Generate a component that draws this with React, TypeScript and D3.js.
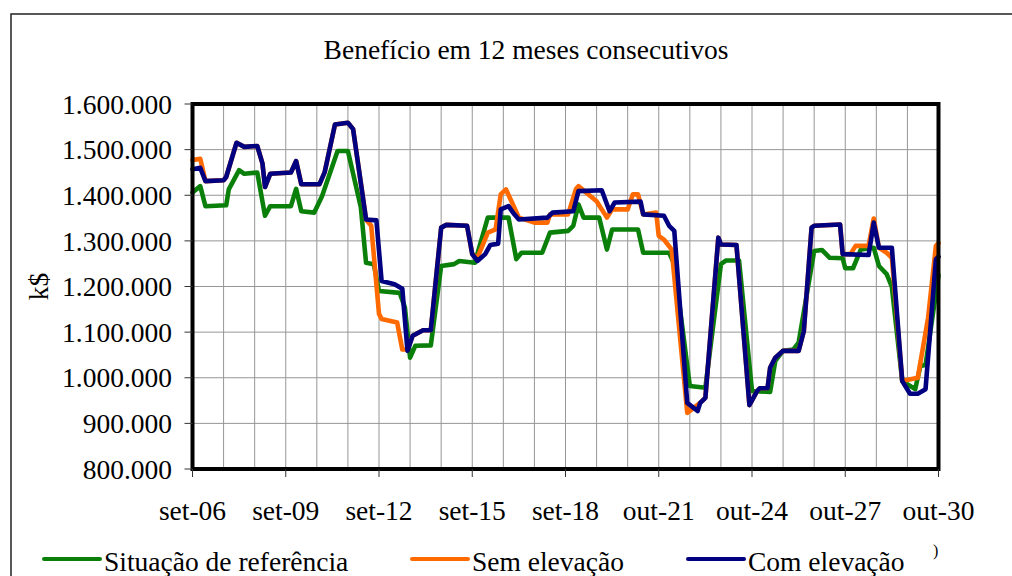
import React from "react"
import * as d3 from "d3"

// month index counted from set-06; values in thousands of k$
const refSeries: Array<[number, number]> = [
    [0, 1406], [3, 1420], [5, 1376], [13, 1378], [14, 1413], [18, 1455], [20, 1447], [25, 1450],
    [28, 1355], [30, 1376], [38, 1376], [40, 1414], [42, 1365], [47, 1362], [50, 1398], [56, 1497],
    [60, 1497], [65, 1373], [67, 1252], [70, 1249], [72, 1190], [80, 1186], [82, 1154], [84, 1044],
    [86, 1070], [92, 1071], [96, 1245], [101, 1249], [103, 1256], [109, 1252], [114, 1351], [122, 1351],
    [125, 1260], [127, 1274], [135, 1274], [138, 1318], [145, 1322], [147, 1333], [149, 1380], [151, 1351],
    [157, 1351], [160, 1281], [162, 1325], [172, 1325], [174, 1274], [184, 1274], [186, 1249], [192, 982],
    [198, 978], [204, 1249], [206, 1257], [211, 1257], [216, 971], [223, 969], [225, 1037], [228, 1059],
    [232, 1062], [234, 1077], [240, 1278], [243, 1280], [246, 1263], [251, 1262], [252, 1240], [255, 1240],
    [258, 1281], [263, 1285], [265, 1245], [268, 1227], [270, 1199], [274, 993], [279, 975], [281, 1026],
    [283, 1028], [288, 1225],
]

const semSeries: Array<[number, number]> = [
    [0, 1477], [3, 1480], [5, 1431], [12, 1433], [13, 1440], [17, 1515], [20, 1506], [25, 1508],
    [27, 1470], [28, 1418], [30, 1447], [38, 1450], [40, 1475], [42, 1424], [49, 1424], [51, 1450],
    [55, 1555], [60, 1559], [62, 1545], [67, 1347], [69, 1333], [72, 1140], [73, 1129], [79, 1121],
    [81, 1062], [83, 1062], [85, 1092], [89, 1104], [92, 1104], [96, 1329], [98, 1335], [106, 1333],
    [108, 1271], [110, 1263], [114, 1318], [117, 1325], [119, 1402], [121, 1413], [124, 1376], [126, 1351],
    [132, 1340], [137, 1340], [138, 1358], [145, 1358], [148, 1413], [149, 1420], [156, 1387], [160, 1351],
    [162, 1369], [168, 1369], [170, 1402], [172, 1402], [174, 1358], [179, 1362], [180, 1311], [182, 1303],
    [185, 1281], [191, 923], [196, 945], [198, 956], [203, 1307], [204, 1292], [210, 1291], [215, 940],
    [218, 971], [219, 977], [222, 977], [223, 1022], [225, 1044], [228, 1059], [234, 1059], [236, 1102],
    [239, 1329], [240, 1333], [250, 1336], [251, 1271], [254, 1271], [256, 1289], [261, 1289], [263, 1349],
    [265, 1285], [268, 1274], [270, 1263], [274, 993], [280, 1000], [284, 1132], [287, 1289], [288, 1295],
]

const comSeries: Array<[number, number]> = [
    [0, 1457], [3, 1460], [5, 1431], [12, 1433], [13, 1440], [17, 1515], [20, 1506], [25, 1508],
    [27, 1470], [28, 1418], [30, 1447], [38, 1450], [40, 1475], [42, 1424], [49, 1424], [51, 1450],
    [55, 1555], [60, 1559], [62, 1545], [67, 1347], [71, 1345], [73, 1212], [78, 1205], [81, 1195],
    [83, 1059], [85, 1092], [89, 1104], [92, 1104], [96, 1329], [98, 1335], [106, 1333], [108, 1271],
    [110, 1256], [113, 1271], [115, 1291], [118, 1294], [119, 1369], [122, 1376], [124, 1360], [126, 1347],
    [137, 1351], [139, 1362], [147, 1365], [149, 1409], [158, 1411], [161, 1365], [163, 1384], [173, 1386],
    [174, 1358], [182, 1355], [184, 1333], [186, 1322], [191, 945], [195, 927], [196, 945], [198, 956],
    [203, 1307], [204, 1292], [210, 1291], [215, 940], [218, 971], [219, 977], [222, 977], [223, 1022],
    [225, 1044], [228, 1059], [234, 1059], [236, 1102], [239, 1329], [240, 1333], [250, 1336], [251, 1271],
    [261, 1269], [263, 1340], [265, 1285], [270, 1285], [274, 993], [277, 965], [280, 965], [283, 975],
    [287, 1260], [288, 1265],
]

const xTickMonths = [0, 36, 72, 108, 144, 180, 216, 252, 288]
const xTickLabels = ["set-06", "set-09", "set-12", "set-15", "set-18", "out-21", "out-24", "out-27", "out-30"]
const yTicks = [800, 900, 1000, 1100, 1200, 1300, 1400, 1500, 1600]
const gridMonths = [0, 12, 24, 36, 48, 60, 72, 84, 96, 108, 120, 132, 144, 156, 168, 180, 192, 204, 216, 228, 240, 252, 264, 276, 288]

const series = [
    {name: "Situação de referência", color: "#0a800a", data: refSeries},
    {name: "Sem elevação", color: "#ff6a00", data: semSeries},
    {name: "Com elevação", color: "#000080", data: comSeries},
]

const font = "'Liberation Serif', 'Times New Roman', serif"

const App = () => {
    const width = 1012
    const height = 576
    const margin = {top: 104, right: 1012 - 938.5, bottom: 576 - 469, left: 192.5}

    const xScale = d3.scaleLinear()
        .domain([0, 288])
        .range([margin.left, width - margin.right])
    const yScale = d3.scaleLinear()
        .domain([800, 1600])
        .range([height - margin.bottom, margin.top])

    const fmt = d3.formatLocale({decimal: ",", thousands: ".", grouping: [3], currency: ["", ""]}).format(",d")

    const line = d3.line<[number, number]>()
        .x(d => xScale(d[0]))
        .y(d => yScale(d[1]))

    const plotW = xScale(288) - xScale(0)
    const plotH = yScale(800) - yScale(1600)

    const legendX = [44, 412, 688]
    const fs = 27.5

    return (
        <svg width={width} height={height} viewBox={`0 0 ${width} ${height}`}
             style={{position: "absolute", left: 0, top: 0, background: "#fff"}}
             fontFamily={font}>
            <rect x={0} y={0} width={width} height={height} fill="#fff"/>
            <rect x={11} y={14} width={1010} height={600} fill="none" stroke="#222" strokeWidth={1.5}/>

            <text x={526} y={59} textAnchor="middle" fontSize={fs}>Benefício em 12 meses consecutivos</text>

            {/* grid */}
            {yTicks.map(v => (
                <line key={"gy" + v} x1={xScale(0)} x2={xScale(288)} y1={yScale(v)} y2={yScale(v)}
                      stroke="#969696" strokeWidth={1}/>
            ))}
            {gridMonths.map(m => (
                <line key={"gx" + m} x1={xScale(m)} x2={xScale(m)} y1={yScale(800)} y2={yScale(1600)}
                      stroke="#969696" strokeWidth={1}/>
            ))}

            {/* series */}
            {series.map(s => (
                <path key={s.name} d={line(s.data) || ""} fill="none" stroke={s.color}
                      strokeWidth={4.6} strokeLinejoin="round" strokeLinecap="round"/>
            ))}

            {/* frame */}
            <rect x={xScale(0)} y={yScale(1600)} width={plotW} height={plotH}
                  fill="none" stroke="#000" strokeWidth={4}/>

            {/* y axis */}
            {yTicks.map(v => (
                <g key={"yt" + v}>
                    <line x1={xScale(0) - 8} x2={xScale(0)} y1={yScale(v)} y2={yScale(v)} stroke="#333"/>
                    <text x={172} y={yScale(v)} dy="0.35em" textAnchor="end" fontSize={fs}>{fmt(v * 1000)}</text>
                </g>
            ))}
            <text transform={`translate(48, ${yScale(1200)}) rotate(-90)`} textAnchor="middle" fontSize={fs}>k$</text>

            {/* x axis */}
            {xTickMonths.map((m, i) => (
                <g key={"xt" + m}>
                    <line x1={xScale(m)} x2={xScale(m)} y1={yScale(800)} y2={yScale(800) + 8} stroke="#333"/>
                    <text x={xScale(m)} y={520} textAnchor="middle" fontSize={fs}>{xTickLabels[i]}</text>
                </g>
            ))}

            {/* legend */}
            {series.map((s, i) => (
                <g key={"lg" + s.name}>
                    <line x1={legendX[i]} x2={legendX[i] + 56} y1={559} y2={559} stroke={s.color}
                          strokeWidth={4} strokeLinecap="round"/>
                    <text x={legendX[i] + 60} y={571} fontSize={fs}>{s.name}</text>
                </g>
            ))}
            <text x={933} y={556} fontSize={16}>)</text>
        </svg>
    )
}

export default App
